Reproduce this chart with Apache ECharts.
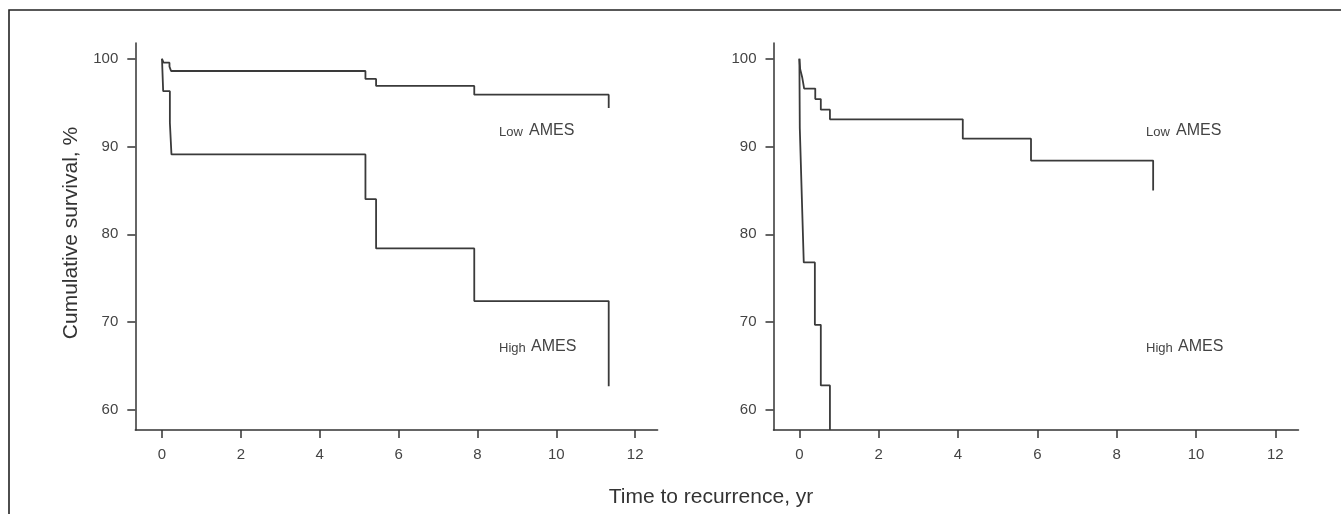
<!DOCTYPE html>
<html>
<head>
<meta charset="utf-8">
<script src="https://cdn.jsdelivr.net/npm/echarts@6/dist/echarts.min.js"></script>
<style>
html,body{margin:0;padding:0;background:#fff;}
#chart{width:1341px;height:514px;}
</style>
</head>
<body>
<div id="chart"></div>
<script>
// ---- Data ----
const xTicks = [0, 2, 4, 6, 8, 10, 12];
const yTicks = [60, 70, 80, 90, 100];

// Left panel
const leftLowTime  = [0, 0.04, 0.19, 0.23, 5.16, 5.43, 7.92, 11.33];
const leftLowSurv  = [100, 99.55, 99.1, 98.6, 97.7, 96.9, 95.9, 94.4];
const leftHighTime = [0, 0.03, 0.20, 0.24, 5.16, 5.43, 7.92, 11.33];
const leftHighSurv = [100, 96.3, 92.7, 89.1, 84.0, 78.4, 72.4, 62.7];

// Right panel
const rightLowTime  = [0, 0.02, 0.07, 0.12, 0.40, 0.54, 0.77, 4.12, 5.84, 8.92];
const rightLowSurv  = [100, 98.8, 97.9, 96.6, 95.4, 94.2, 93.1, 90.9, 88.4, 85.0];
const rightHighTime = [0, 0.01, 0.06, 0.11, 0.39, 0.54, 0.77];
const rightHighSurv = [100, 92.1, 84.4, 76.8, 69.7, 62.8, 57.72];

const lowLabel = ['Low', 'AMES'];
const highLabel = ['High', 'AMES'];
const xTitle = 'Time to recurrence, yr';
const yTitle = 'Cumulative survival, %';

function pairs(t, s) { return t.map((v, i) => [v, s[i]]); }

const FONT = '"Liberation Sans", Arial, Helvetica, sans-serif';
const AX = '#333';
const LINE = '#3a3a3a';

function xAxisCfg(gi, min, max) {
  return {
    type: 'value', gridIndex: gi, min: min, max: max,
    axisLine: { show: true, onZero: false, lineStyle: { color: AX, width: 1.5 } },
    axisTick: { show: true, length: 8, customValues: xTicks, lineStyle: { color: AX, width: 1.5 } },
    axisLabel: { customValues: xTicks, margin: 17, fontSize: 15, color: '#444', fontFamily: FONT },
    splitLine: { show: false }
  };
}
function yAxisCfg(gi) {
  return {
    type: 'value', gridIndex: gi, min: 57.72, max: 101.79,
    axisLine: { show: true, onZero: false, lineStyle: { color: AX, width: 1.5 } },
    axisTick: { show: true, length: 8, customValues: yTicks, lineStyle: { color: AX, width: 1.5 } },
    axisLabel: { customValues: yTicks, margin: 17, fontSize: 15, color: '#444', fontFamily: FONT },
    splitLine: { show: false }
  };
}
function lineSeries(xi, data) {
  return {
    type: 'line', xAxisIndex: xi, yAxisIndex: xi, step: 'end', data: data,
    showSymbol: false, symbol: 'none', clip: true,
    lineStyle: { color: LINE, width: 1.8 }, silent: true
  };
}
function txt(x, y, s, size) {
  return { type: 'text', left: x, top: y,
    style: { text: s, fontSize: size, fill: '#444', fontFamily: FONT, textVerticalAlign: 'middle' } };
}

const chart = echarts.init(document.getElementById('chart'), null, { renderer: 'canvas' });
chart.setOption({
  animation: false,
  backgroundColor: '#fff',
  grid: [
    { left: 135.3, top: 43, width: 522.3, height: 387, outerBoundsMode: 'none' },
    { left: 773.5, top: 43, width: 525, height: 387, outerBoundsMode: 'none' }
  ],
  xAxis: [xAxisCfg(0, -0.677, 12.57), xAxisCfg(1, -0.653, 12.585)],
  yAxis: [yAxisCfg(0), yAxisCfg(1)],
  series: [
    lineSeries(0, pairs(leftLowTime, leftLowSurv)),
    lineSeries(0, pairs(leftHighTime, leftHighSurv)),
    lineSeries(1, pairs(rightLowTime, rightLowSurv)),
    lineSeries(1, pairs(rightHighTime, rightHighSurv))
  ],
  graphic: [
    // outer frame (top and left edges)
    { type: 'polyline', shape: { points: [[9, 514], [9, 10], [1341, 10]] },
      style: { stroke: '#222', lineWidth: 1.6, fill: null } },
    // axis titles
    { type: 'text', x: 711, y: 497,
      style: { text: xTitle, fontSize: 21, fill: '#333', fontFamily: FONT, align: 'center', verticalAlign: 'middle' } },
    { type: 'text', x: 71, y: 233, rotation: Math.PI / 2,
      style: { text: yTitle, fontSize: 21, fill: '#333', fontFamily: FONT, align: 'center', verticalAlign: 'middle' } },
    // curve labels, left panel
    { type: 'text', x: 499, y: 132, style: { text: lowLabel[0], fontSize: 13, fill: '#444', fontFamily: FONT, verticalAlign: 'middle' } },
    { type: 'text', x: 529, y: 130.5, style: { text: lowLabel[1], fontSize: 16, fill: '#444', fontFamily: FONT, verticalAlign: 'middle' } },
    { type: 'text', x: 499, y: 348.5, style: { text: highLabel[0], fontSize: 13, fill: '#444', fontFamily: FONT, verticalAlign: 'middle' } },
    { type: 'text', x: 531, y: 347, style: { text: highLabel[1], fontSize: 16, fill: '#444', fontFamily: FONT, verticalAlign: 'middle' } },
    // curve labels, right panel
    { type: 'text', x: 1146, y: 132, style: { text: lowLabel[0], fontSize: 13, fill: '#444', fontFamily: FONT, verticalAlign: 'middle' } },
    { type: 'text', x: 1176, y: 130.5, style: { text: lowLabel[1], fontSize: 16, fill: '#444', fontFamily: FONT, verticalAlign: 'middle' } },
    { type: 'text', x: 1146, y: 348.5, style: { text: highLabel[0], fontSize: 13, fill: '#444', fontFamily: FONT, verticalAlign: 'middle' } },
    { type: 'text', x: 1178, y: 347, style: { text: highLabel[1], fontSize: 16, fill: '#444', fontFamily: FONT, verticalAlign: 'middle' } }
  ]
});
</script>
</body>
</html>
